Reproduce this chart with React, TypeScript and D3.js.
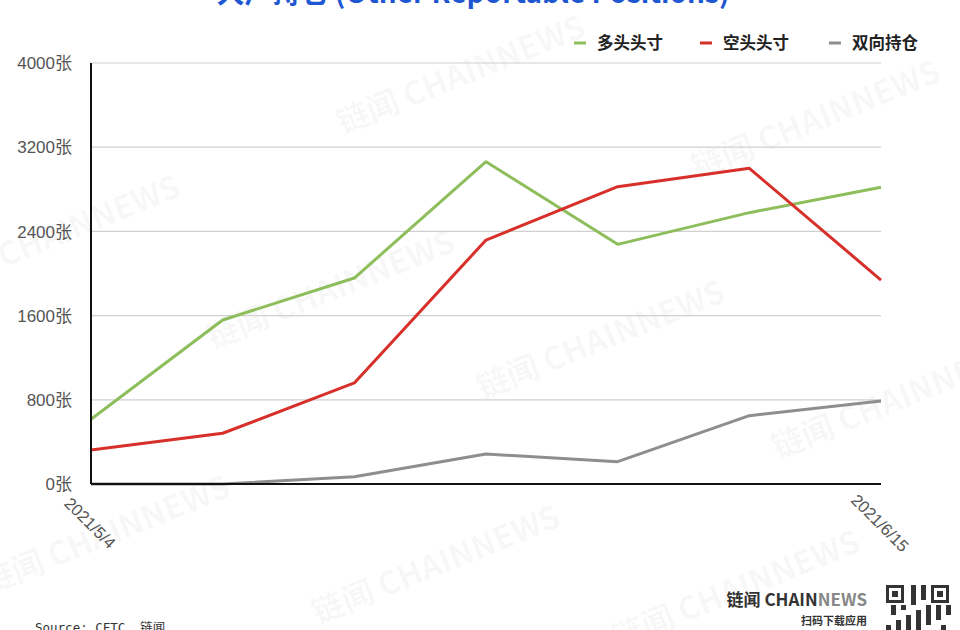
import React, { useEffect, useRef } from 'react'
import * as d3 from 'd3'

// weekly dates, only first and last are labelled
const dates = ['2021/5/4', '2021/5/11', '2021/5/18', '2021/5/25', '2021/6/1', '2021/6/8', '2021/6/15']
const shownDates = ['2021/5/4', '2021/6/15']

const longPos = [615, 1558, 1957, 3062, 2277, 2578, 2819]
const shortPos = [323, 482, 960, 2318, 2825, 2999, 1938]
const spreadPos = [0, 0, 69, 285, 212, 649, 789]

const seriesNames = ['多头头寸', '空头头寸', '双向持仓']
const seriesColors = ['#8dbe5b', '#d7302a', '#8e8e8e']

const yTicks = [0, 800, 1600, 2400, 3200, 4000]

const title = '大户持仓 (Other Reportable Positions)'
const source = 'Source: CFTC, 链闻'

const FONT = '"Liberation Sans", "Noto Sans CJK SC", sans-serif'
const CJK = '"Noto Sans CJK SC", "Liberation Sans", sans-serif'

const App: React.FC = () => {
  const svgRef = useRef<SVGSVGElement | null>(null)

  useEffect(() => {
    if (!svgRef.current) return
    const svg = d3.select(svgRef.current)
    svg.selectAll('*').remove()

    const width = 960
    const height = 630
    const margin = { left: 91, right: 79, top: 63, bottom: 146 }

    svg.attr('width', width).attr('height', height)

    svg.append('rect').attr('width', width).attr('height', height).attr('fill', '#fff')

    // faint watermarks
    const marks: [number, number][] = [
      [465, 85], [820, 130], [60, 245], [335, 300], [605, 350], [900, 410], [110, 545], [440, 575], [740, 600]
    ]
    svg
      .append('g')
      .selectAll('text')
      .data(marks)
      .join('text')
      .attr('transform', (d) => `translate(${d[0]},${d[1]}) rotate(-22)`)
      .attr('text-anchor', 'middle')
      .attr('font-family', CJK)
      .attr('font-weight', 700)
      .attr('font-size', 32)
      .attr('fill', '#000')
      .attr('fill-opacity', 0.04)
      .text('链闻 CHAINNEWS')

    const x = d3
      .scalePoint<string>()
      .domain(dates)
      .range([margin.left, width - margin.right])

    const y = d3
      .scaleLinear()
      .domain([0, 4000])
      .range([height - margin.bottom, margin.top])

    // gridlines
    svg
      .append('g')
      .selectAll('line')
      .data(yTicks.filter((t) => t > 0))
      .join('line')
      .attr('x1', margin.left)
      .attr('x2', width - margin.right)
      .attr('y1', (d) => y(d))
      .attr('y2', (d) => y(d))
      .attr('stroke', '#d0d0d0')
      .attr('stroke-width', 1.2)

    // y labels
    svg
      .append('g')
      .selectAll('text')
      .data(yTicks)
      .join('text')
      .attr('x', 72)
      .attr('y', (d) => y(d))
      .attr('dy', '0.36em')
      .attr('text-anchor', 'end')
      .attr('font-family', FONT)
      .attr('font-size', 17)
      .attr('fill', '#555')
      .text((d) => `${d}张`)

    // x labels, rotated
    svg
      .append('g')
      .selectAll('text')
      .data(shownDates)
      .join('text')
      .attr('transform', (d) => `translate(${x(d)! - 1},${height - margin.bottom + 39}) rotate(45)`)
      .attr('text-anchor', 'middle')
      .attr('dy', '0.35em')
      .attr('font-family', FONT)
      .attr('font-size', 16.5)
      .attr('fill', '#555')
      .text((d) => d)

    // lines
    const all = [longPos, shortPos, spreadPos]
    const line = d3
      .line<number>()
      .x((_, i) => x(dates[i])!)
      .y((d) => y(d))

    all.forEach((vals, i) => {
      svg
        .append('path')
        .datum(vals)
        .attr('d', line)
        .attr('fill', 'none')
        .attr('stroke', seriesColors[i])
        .attr('stroke-width', 3)
        .attr('stroke-linejoin', 'round')
    })

    // axes
    svg
      .append('line')
      .attr('x1', margin.left)
      .attr('x2', margin.left)
      .attr('y1', y(4000))
      .attr('y2', y(0))
      .attr('stroke', '#111')
      .attr('stroke-width', 2)
    svg
      .append('line')
      .attr('x1', margin.left)
      .attr('x2', width - margin.right)
      .attr('y1', y(0))
      .attr('y2', y(0))
      .attr('stroke', '#111')
      .attr('stroke-width', 2)

    // legend
    const legendX = [574, 700, 829]
    const legend = svg
      .append('g')
      .selectAll('g')
      .data(seriesNames)
      .join('g')
      .attr('transform', (_, i) => `translate(${legendX[i]},43)`)
    legend
      .append('line')
      .attr('x1', 0)
      .attr('x2', 12)
      .attr('stroke', (_, i) => seriesColors[i])
      .attr('stroke-width', 3)
    legend
      .append('text')
      .attr('x', 23)
      .attr('dy', '0.36em')
      .attr('font-family', CJK)
      .attr('font-weight', 700)
      .attr('font-size', 16.5)
      .attr('fill', '#222')
      .text((d) => d)

    // title, cut at the top edge
    svg
      .append('text')
      .attr('x', 473)
      .attr('y', 3)
      .attr('text-anchor', 'middle')
      .attr('font-family', CJK)
      .attr('font-weight', 700)
      .attr('font-size', 28)
      .attr('fill', '#1f57d3')
      .text(title)

    // source
    svg
      .append('text')
      .attr('x', 35)
      .attr('y', 632)
      .attr('font-family', '"DejaVu Sans Mono", "Noto Sans CJK SC", monospace')
      .attr('font-size', 12.5)
      .attr('fill', '#333')
      .text(source)

    // brand
    const brand = svg
      .append('text')
      .attr('x', 867)
      .attr('y', 606)
      .attr('text-anchor', 'end')
      .attr('font-family', CJK)
      .attr('font-weight', 700)
      .attr('font-size', 17)
    brand.append('tspan').attr('fill', '#333').text('链闻 CHAIN')
    brand.append('tspan').attr('fill', '#888').text('NEWS')
    svg
      .append('text')
      .attr('x', 867)
      .attr('y', 625)
      .attr('text-anchor', 'end')
      .attr('font-family', CJK)
      .attr('font-weight', 700)
      .attr('font-size', 11)
      .attr('fill', '#333')
      .text('扫码下载应用')

    // qr-ish block
    const qr = svg.append('g').attr('transform', 'translate(886,585)')
    const cells = d3.range(0, 13 * 13)
    qr.selectAll('rect.c')
      .data(cells.filter((c) => ((c * 37) % 11) % 3 === 0))
      .join('rect')
      .attr('x', (c) => (c % 13) * 5)
      .attr('y', (c) => Math.floor(c / 13) * 5)
      .attr('width', 5)
      .attr('height', 5)
      .attr('fill', '#333')
    const finders: [number, number][] = [[0, 0], [45, 0], [0, 45]]
    finders.forEach(([fx, fy]) => {
      qr.append('rect').attr('x', fx).attr('y', fy).attr('width', 20).attr('height', 20).attr('fill', '#fff')
      qr.append('rect').attr('x', fx + 1.5).attr('y', fy + 1.5).attr('width', 15).attr('height', 15).attr('fill', 'none').attr('stroke', '#333').attr('stroke-width', 3)
      qr.append('rect').attr('x', fx + 6).attr('y', fy + 6).attr('width', 6).attr('height', 6).attr('fill', '#333')
    })
  }, [])

  return (
    <div style={{ position: 'absolute', left: 0, top: 0, width: 960, height: 630, overflow: 'hidden' }}>
      <svg ref={svgRef} style={{ display: 'block' }}></svg>
    </div>
  )
}

export default App
